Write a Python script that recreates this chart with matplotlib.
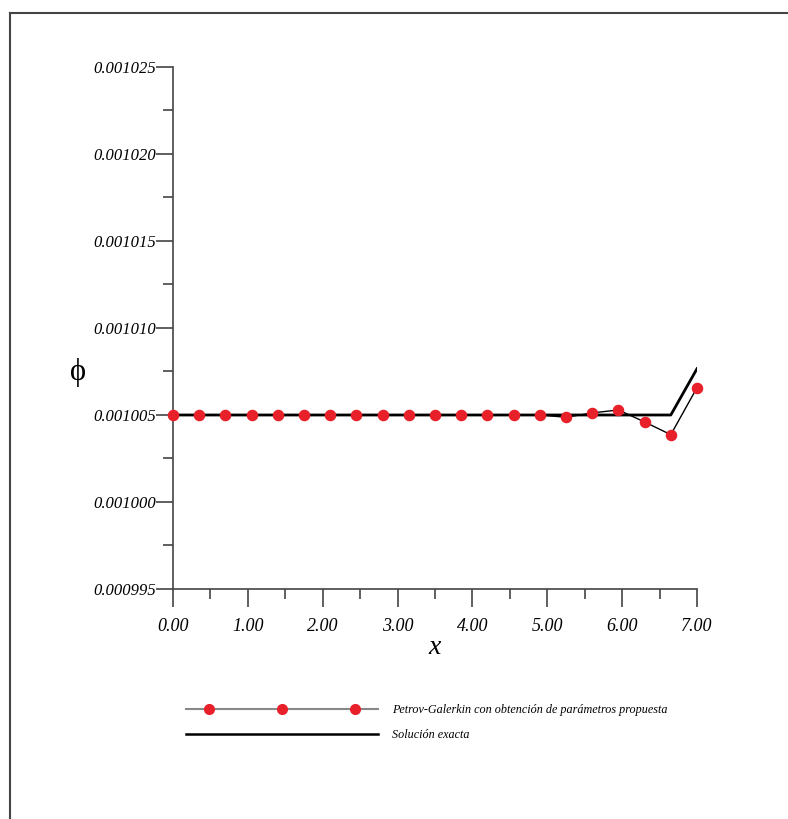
import matplotlib
matplotlib.use("Agg")
import matplotlib.pyplot as plt
from matplotlib.lines import Line2D
from matplotlib.ticker import MultipleLocator, FormatStrFormatter
from matplotlib.legend_handler import HandlerLine2D, HandlerTuple

# nodos de la malla
x_nodes = [0.00, 0.35, 0.70, 1.05, 1.40, 1.75, 2.10, 2.45, 2.80, 3.15, 3.50,
           3.85, 4.20, 4.55, 4.90, 5.25, 5.60, 5.95, 6.30, 6.65, 7.00]

# Petrov-Galerkin (parametros propuestos)
phi_pg = [0.001005, 0.001005, 0.001005, 0.001005, 0.001005, 0.001005, 0.001005,
          0.001005, 0.001005, 0.001005, 0.001005, 0.001005, 0.001005, 0.001005,
          0.001005, 0.00100487, 0.00100512, 0.00100529, 0.00100460, 0.00100387,
          0.00100657]

# solucion exacta en los mismos nodos
phi_exact = [0.001005] * 20 + [0.00100766]

label_pg = "Petrov-Galerkin con obtención de parámetros propuesta"
label_exact = "Solución exacta"

serif = ["Liberation Serif", "DejaVu Serif"]
red = "#e8202a"
axis_col = "#444444"

W, H = 788, 819
fig = plt.figure(figsize=(W / 100, H / 100), dpi=100)
ax = fig.add_axes([173 / W, 1 - 589 / H, (697 - 173) / W, (589 - 67) / H])

ax.plot(x_nodes, phi_exact, color="black", lw=2.0, zorder=2)
ax.plot(x_nodes, phi_pg, color="black", lw=1.0, marker="o", ms=7.3,
        mfc=red, mec=red, zorder=3, clip_on=False)

ax.set_xlim(0, 7)
ax.set_ylim(0.000995, 0.001025)
ax.xaxis.set_major_locator(MultipleLocator(1.0))
ax.xaxis.set_minor_locator(MultipleLocator(0.5))
ax.yaxis.set_major_locator(MultipleLocator(0.000005))
ax.yaxis.set_minor_locator(MultipleLocator(0.0000025))
ax.xaxis.set_major_formatter(FormatStrFormatter("%.2f"))
ax.yaxis.set_major_formatter(FormatStrFormatter("%.6f"))

for s in ("top", "right"):
    ax.spines[s].set_visible(False)
for s in ("left", "bottom"):
    ax.spines[s].set_color(axis_col)
    ax.spines[s].set_linewidth(1.2)

ax.tick_params(axis="x", which="major", direction="out", length=13, width=1.2,
               color=axis_col, pad=8)
ax.tick_params(axis="x", which="minor", direction="out", length=7, width=1.2,
               color=axis_col)
ax.tick_params(axis="y", which="major", direction="out", length=12.5, width=1.2,
               color=axis_col, pad=0)
ax.tick_params(axis="y", which="minor", direction="out", length=7, width=1.2,
               color=axis_col)
for lab in ax.get_xticklabels():
    lab.set_family(serif)
    lab.set_style("italic")
    lab.set_fontsize(13)
for lab in ax.get_yticklabels():
    lab.set_family(serif)
    lab.set_style("italic")
    lab.set_fontsize(12)

ax.set_xlabel("x", family=serif, style="italic", fontsize=20, labelpad=0)
fig.text(78 / W, 1 - 373 / H, "ϕ", family=serif, fontsize=22,
         ha="center", va="center")

# leyenda: linea gris completa + tres marcadores encima
h_line = Line2D([], [], color="#888888", lw=1.5)
h_pts = Line2D([], [], ls="none", marker="o", ms=7, mfc=red, mec=red)
h_ex = Line2D([], [], color="black", lw=1.8)
leg = fig.legend([(h_line, h_pts), h_ex], [label_pg, label_exact],
                 loc="upper left", bbox_to_anchor=(182 / W, 1 - 704 / H),
                 frameon=False, borderpad=0, borderaxespad=0,
                 numpoints=3, handlelength=16.4, handletextpad=0.9,
                 labelspacing=1.05,
                 handler_map={tuple: HandlerTuple(ndivide=1, pad=0),
                              h_pts: HandlerLine2D(marker_pad=2.2)},
                 prop={"family": serif, "style": "italic", "size": 8.75})

# marco de la pagina
fig.add_artist(Line2D([10 / W, 1], [1 - 12.5 / H, 1 - 12.5 / H],
                      transform=fig.transFigure, color="#444444", lw=1.5))
fig.add_artist(Line2D([10 / W, 10 / W], [1 - 12.5 / H, 0],
                      transform=fig.transFigure, color="#444444", lw=1.5))

fig.savefig("out.png", dpi=100)
